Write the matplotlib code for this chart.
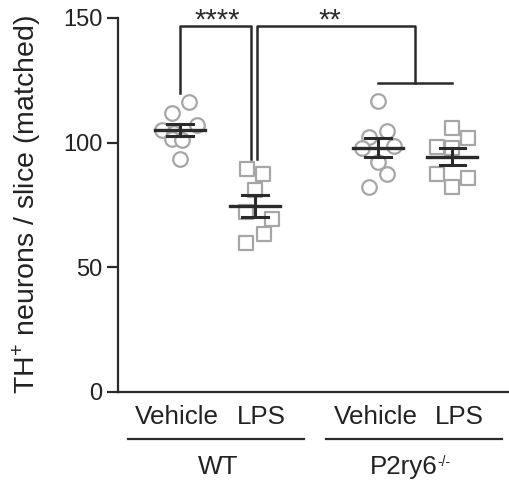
import matplotlib
matplotlib.use('Agg')
import matplotlib.pyplot as plt
import numpy as np

plt.rcParams['font.family'] = ['Liberation Sans', 'DejaVu Sans']
plt.rcParams['mathtext.fontset'] = 'custom'
plt.rcParams['mathtext.rm'] = 'Liberation Sans'
plt.rcParams['mathtext.it'] = 'Liberation Sans:italic'

# ---- data ----
treatments = ['Vehicle', 'LPS', 'Vehicle', 'LPS']
genotypes = ['WT', 'P2ry6']
genotype_sup = ['', '-/-']
wt_vehicle = [116.5, 112.0, 107.0, 105.0, 104.0, 101.6, 101.2, 93.6]
wt_lps = [89.6, 87.6, 81.0, 72.3, 69.5, 63.5, 59.8]
ko_vehicle = [116.9, 104.8, 102.4, 98.8, 98.0, 92.4, 87.6, 82.3]
ko_lps = [106.0, 102.0, 98.4, 98.0, 87.6, 86.0, 82.3]
yticks = [0, 50, 100, 150]
ylabel = 'TH$^{+}$ neurons / slice (matched)'
stars_1 = '****'
stars_2 = '**'

# ---- layout ----
positions = [0.0, 1.0, 2.64, 3.63]
jitter_px = [
    [9, -8, 17, -18, -6, -8, 2, 0],
    [-8, 8, 0, -9, 17, 9, -9],
    [0, 9, -9, 16, -16, 0, 9, -9],
    [0, 16, -15, 0, -15, 16, 0],
]
markers = ['o', 's', 'o', 's']
series = [wt_vehicle, wt_lps, ko_vehicle, ko_lps]

fig = plt.figure(figsize=(5.1, 4.84), dpi=100)
ax = fig.add_axes([118 / 510, 92 / 484, 392 / 510, 374 / 484])
ax.set_xlim(-0.827, 4.4)
ax.set_ylim(0, 150)

dark = '#2b2b2b'
grey = '#a6a6a6'
tcol = '#222222'

for pos, vals, jit, mk in zip(positions, series, jitter_px, markers):
    vals = np.asarray(vals)
    xs = pos + np.asarray(jit) / 75.0
    ax.scatter(xs, vals, s=110, marker=mk, facecolors='white',
               edgecolors=grey, linewidths=1.6, zorder=2, clip_on=False)
    m = vals.mean()
    sem = vals.std(ddof=1) / np.sqrt(len(vals))
    ax.plot([pos - 0.333, pos + 0.333], [m, m], color=dark, lw=2.4, zorder=3)
    ax.plot([pos, pos], [m - sem, m + sem], color=dark, lw=2.2, zorder=3)
    for yv in (m - sem, m + sem):
        ax.plot([pos - 0.167, pos + 0.167], [yv, yv], color=dark, lw=2.2, zorder=3)

# significance brackets
top = 146.6
blw = 1.8
ax.plot([positions[0], positions[0], positions[1] - 0.053, positions[1] - 0.053],
        [120, top, top, 93.6], color=dark, lw=blw, clip_on=False)
mid_ko = (positions[2] + positions[3]) / 2
ax.plot([positions[1] + 0.027, positions[1] + 0.027, mid_ko, mid_ko],
        [93.6, top, top, 124], color=dark, lw=blw, clip_on=False)
ax.plot([positions[2], positions[3]], [124, 124], color=dark, lw=blw)
ax.text(0.49, 145.8, stars_1, ha='center', va='baseline', fontsize=21,
        color=dark, clip_on=False)
ax.text(2.0, 145.8, stars_2, ha='center', va='baseline', fontsize=21,
        color=dark, clip_on=False)

# axes styling
for s in ('top', 'right'):
    ax.spines[s].set_visible(False)
for s in ('left', 'bottom'):
    ax.spines[s].set_linewidth(1.6)
    ax.spines[s].set_color(dark)
ax.set_xticks([])
ax.set_yticks(yticks)
ax.tick_params(axis='y', length=8, width=1.6, color=dark, labelsize=17,
               pad=3, labelcolor=tcol)
fig.text(27 / 510, 1 - 205 / 484, ylabel, rotation=90, ha='center',
         va='center', fontsize=20.5, color=tcol)

# category labels below axis
tr = ax.get_xaxis_transform()
label_offsets = [-0.04, 0.09, -0.03, 0.09]
for pos, off, lab in zip(positions, label_offsets, treatments):
    ax.text(pos + off, -0.067, lab, transform=tr, ha='center', va='center',
            fontsize=18.7, color=tcol, clip_on=False)
spans = [(-0.693, 1.653), (1.947, 4.293)]
for (a, b), g, sup in zip(spans, genotypes, genotype_sup):
    ax.plot([a, b], [-0.126, -0.126], transform=tr, color=dark, lw=1.6,
            clip_on=False)
    shift = 0.0 if not sup else -0.17
    t = ax.text((a + b) / 2 + 0.03 + shift, -0.2, g, transform=tr, ha='center',
                va='center', fontsize=18.7, color=tcol, clip_on=False)
    if sup:
        ax.annotate(sup, xy=(1.0, 0.98), xycoords=t, ha='left', va='top',
                    fontsize=10, color=tcol, annotation_clip=False)

fig.savefig('out.png', dpi=100)
